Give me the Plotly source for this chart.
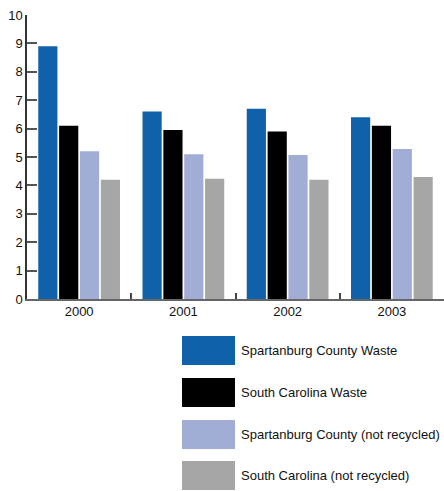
import plotly.graph_objects as go

years = ["2000", "2001", "2002", "2003"]
series_names = [
    "Spartanburg County Waste",
    "South Carolina Waste",
    "Spartanburg County (not recycled)",
    "South Carolina (not recycled)",
]
spartanburg_waste = [8.9, 6.6, 6.7, 6.4]
sc_waste = [6.1, 5.95, 5.9, 6.1]
spartanburg_not_recycled = [5.2, 5.1, 5.07, 5.28]
sc_not_recycled = [4.2, 4.23, 4.2, 4.3]
colors = ["#0F62AA", "#000000", "#A2ADD6", "#A6A6A6"]
y_ticks = list(range(0, 11))

FONT = "Liberation Sans, Arial, sans-serif"
FS = 13

W, H = 444, 491
L, R, T, B = 27, 0, 15, 192
pw = W - L - R
ph = H - T - B


def px_to_paper_x(px):
    return (px - L) / pw


def px_to_paper_y(py):
    return (H - B - py) / ph


fig = go.Figure()
for name, vals, col in zip(series_names,
                           [spartanburg_waste, sc_waste, spartanburg_not_recycled, sc_not_recycled],
                           colors):
    fig.add_trace(go.Bar(x=years, y=vals, name=name, marker=dict(color=col, line=dict(width=0)),
                         showlegend=False, hoverinfo="skip"))

# custom legend (large swatches) as shapes + annotations
shapes = []
annotations = []
box_x0, box_x1 = 182, 235
box_tops = [336, 378, 420, 461]
box_h = 29
for name, col, top in zip(series_names, colors, box_tops):
    shapes.append(dict(type="rect", xref="paper", yref="paper",
                       x0=px_to_paper_x(box_x0), x1=px_to_paper_x(box_x1),
                       y0=px_to_paper_y(top + box_h), y1=px_to_paper_y(top),
                       fillcolor=col, line=dict(width=0)))
    annotations.append(dict(xref="paper", yref="paper",
                            x=px_to_paper_x(239), y=px_to_paper_y(top + box_h / 2),
                            text=name, showarrow=False, xanchor="left", yanchor="middle",
                            font=dict(family=FONT, size=FS, color="#111")))

fig.update_layout(
    width=W, height=H,
    margin=dict(l=L, r=R, t=T, b=B, pad=0),
    paper_bgcolor="white", plot_bgcolor="white",
    barmode="group", bargap=0.2, bargroupgap=0.08,
    font=dict(family=FONT, size=FS, color="#111"),
    shapes=shapes, annotations=annotations,
    xaxis=dict(type="category", showgrid=False, zeroline=False,
               showline=True, linecolor="#666", linewidth=1.5,
               ticks="inside", tickson="boundaries", ticklen=6, tickcolor="#444", tickwidth=1.5,
               tickfont=dict(family=FONT, size=FS, color="#111")),
    yaxis=dict(range=[0, 10], tickvals=y_ticks, showgrid=False, zeroline=False,
               showline=True, linecolor="#333", linewidth=1.5,
               ticks="inside", ticklen=10, tickcolor="#555", tickwidth=1.5,
               tickfont=dict(family=FONT, size=FS, color="#111")),
)

# remove the default 8px page margin so the figure sits at the window's corner
fig.write_html("out.html", config={"displayModeBar": False},
               post_script="document.body.style.margin='0';document.body.style.overflow='hidden';")
